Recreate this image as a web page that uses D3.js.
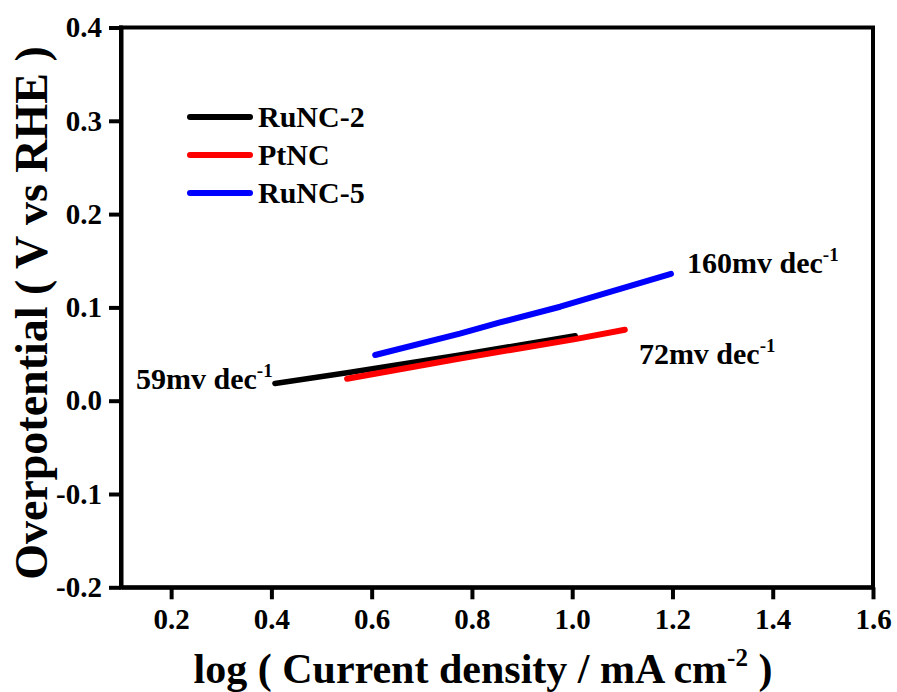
<!DOCTYPE html>
<html>
<head>
<meta charset="utf-8">
<script src="https://cdn.jsdelivr.net/npm/d3@7"></script>
<style>
  html, body { margin: 0; padding: 0; background: #ffffff; }
  svg { display: block; }
  text { font-family: "Liberation Serif", "Times New Roman", serif; font-weight: bold; fill: #000; }
</style>
</head>
<body>
<svg id="chart" width="897" height="692"></svg>
<script>
// ---- data ----
const seriesNames = ["RuNC-2", "PtNC", "RuNC-5"];
const seriesColors = ["#000000", "#ff0000", "#0000ff"];
const runc2X = [0.407, 0.551, 0.776, 1.006];
const runc2Y = [0.0185, 0.030, 0.049, 0.0697];
const ptncX = [0.551, 0.776, 1.006, 1.105];
const ptncY = [0.0236, 0.0453, 0.066, 0.076];
const runc5X = [0.607, 0.776, 0.856, 0.976, 1.197];
const runc5Y = [0.049, 0.0718, 0.0839, 0.1007, 0.136];
const xTicks = [0.2, 0.4, 0.6, 0.8, 1.0, 1.2, 1.4, 1.6];
const yTicks = [-0.2, -0.1, 0.0, 0.1, 0.2, 0.3, 0.4];
const annotationText = ["59mv dec", "72mv dec", "160mv dec"];
const annotationSup = ["-1", "-1", "-1"];
const annotationX = [0.130, 1.133, 1.229];
const annotationY = [0.0125, 0.0393, 0.1369];
const xTitle = "log ( Current density / mA cm";
const xTitleSup = "-2";
const xTitleEnd = " )";
const yTitle = "Overpotential ( V vs RHE )";

// ---- layout ----
const svg = d3.select("#chart");
const pLeft = 121, pRight = 873, pTop = 27.5, pBottom = 587.3;
const x = d3.scaleLinear().domain([0.1, 1.6]).range([pLeft, pRight]);
const y = d3.scaleLinear().domain([-0.2, 0.4]).range([pBottom, pTop]);

const series = [
  { name: seriesNames[0], color: seriesColors[0], xs: runc2X, ys: runc2Y, w: 5.5 },
  { name: seriesNames[1], color: seriesColors[1], xs: ptncX, ys: ptncY, w: 6 },
  { name: seriesNames[2], color: seriesColors[2], xs: runc5X, ys: runc5Y, w: 6 }
];

const line = d3.line().x(d => x(d[0])).y(d => y(d[1]));

series.forEach(s => {
  svg.append("path")
    .datum(s.xs.map((v, k) => [v, s.ys[k]]))
    .attr("d", line)
    .attr("fill", "none")
    .attr("stroke", s.color)
    .attr("stroke-width", s.w)
    .attr("stroke-linecap", "round")
    .attr("stroke-linejoin", "round");
});

// ---- axes ----
const axisW = 4;
const yAxis = svg.append("g").attr("transform", `translate(${pLeft},0)`)
  .call(d3.axisLeft(y).tickValues(yTicks).tickFormat(d => d.toFixed(1))
    .tickSize(12).tickSizeOuter(0).tickPadding(7));
const xAxis = svg.append("g").attr("transform", `translate(0,${pBottom})`)
  .call(d3.axisBottom(x).tickValues(xTicks).tickFormat(d => d.toFixed(1))
    .tickSize(12).tickSizeOuter(0).tickPadding(9));
[yAxis, xAxis].forEach(g => {
  g.attr("font-family", null).attr("font-size", null);
  g.selectAll("path, line").attr("stroke", "#000").attr("stroke-width", axisW);
  g.selectAll("text").style("font-size", "29px");
});
svg.append("line").attr("x1", pLeft).attr("x2", pLeft).attr("y1", pTop - axisW / 2).attr("y2", pBottom + axisW / 2)
  .attr("stroke", "#000").attr("stroke-width", axisW);
svg.append("line").attr("x1", pLeft - axisW / 2).attr("x2", pRight + axisW / 2).attr("y1", pBottom).attr("y2", pBottom)
  .attr("stroke", "#000").attr("stroke-width", axisW);
svg.append("line").attr("x1", pLeft - axisW / 2).attr("x2", pRight + axisW / 2).attr("y1", pTop).attr("y2", pTop)
  .attr("stroke", "#000").attr("stroke-width", axisW);
svg.append("line").attr("x1", pRight).attr("x2", pRight).attr("y1", pTop).attr("y2", pBottom)
  .attr("stroke", "#000").attr("stroke-width", axisW);

// ---- titles ----
const xt = svg.append("text")
  .attr("x", (pLeft + pRight) / 2 - 14)
  .attr("y", 683)
  .attr("text-anchor", "middle")
  .style("font-size", "42px");
xt.append("tspan").text(xTitle);
xt.append("tspan").text(xTitleSup).style("font-size", "25px").attr("dy", -17);
xt.append("tspan").text(xTitleEnd).attr("dy", 17);

svg.append("text")
  .attr("transform", `translate(47,313) rotate(-90)`)
  .attr("text-anchor", "middle")
  .style("font-size", "46px")
  .text(yTitle);

// ---- legend ----
const legendY0 = 117, legendStep = 38;
series.forEach((s, i) => {
  const ly = legendY0 + i * legendStep;
  svg.append("line")
    .attr("x1", 190).attr("x2", 250).attr("y1", ly).attr("y2", ly)
    .attr("stroke", s.color).attr("stroke-width", 6).attr("stroke-linecap", "round");
  svg.append("text")
    .attr("x", 258).attr("y", ly + 10)
    .style("font-size", "30px")
    .text(s.name);
});

// ---- annotations ----
annotationText.forEach((t, i) => {
  const tx = svg.append("text")
    .attr("x", x(annotationX[i]))
    .attr("y", y(annotationY[i]))
    .style("font-size", "30px");
  tx.append("tspan").text(t);
  tx.append("tspan").text(annotationSup[i]).style("font-size", "19px").attr("dy", -12);
});
</script>
</body>
</html>
